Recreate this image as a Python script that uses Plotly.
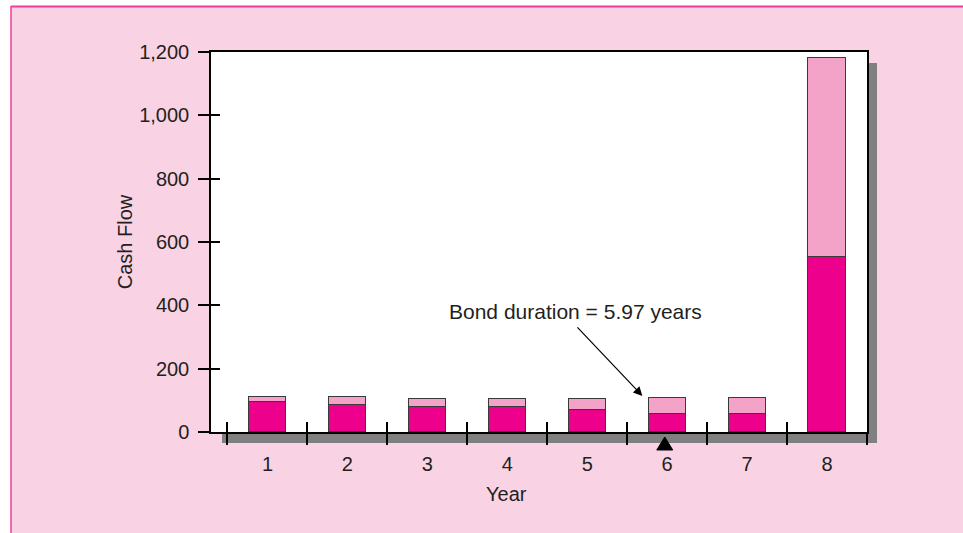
import plotly.graph_objects as go

# ---- data ----
years = [1, 2, 3, 4, 5, 6, 7, 8]
year_labels = ["1", "2", "3", "4", "5", "6", "7", "8"]
cash_flow = [112, 111, 105, 105, 104, 108, 107, 1181]      # total bar height
present_value = [95, 86, 78, 78, 70, 58, 58, 554]          # lower (dark) portion
duration = 5.97
y_ticks = [0, 200, 400, 600, 800, 1000, 1200]
boundaries = [0.5, 1.5, 2.5, 3.5, 4.5, 5.5, 6.5, 7.5, 8.5]

upper = [c - p for c, p in zip(cash_flow, present_value)]

DARK = "#EC008C"
LIGHT = "#F3A3C8"
PINK_BG = "#F9D3E4"
BORDER = "#EE3F97"
SHADOW = "#808080"
TEXT = "#231F20"
FONT = "Liberation Sans, Arial, Helvetica, sans-serif"
FS = 20

fig = go.Figure()
fig.add_trace(go.Bar(x=years, y=present_value, width=0.465, marker=dict(color=DARK, line=dict(color="#3a3a3a", width=1)),
                     hoverinfo="y", showlegend=False))
fig.add_trace(go.Bar(x=years, y=upper, width=0.465, marker=dict(color=LIGHT, line=dict(color="#3a3a3a", width=1)),
                     hoverinfo="y", showlegend=False))
# invisible trace to create overlay axes
fig.add_trace(go.Scatter(x=[1], y=[0], xaxis="x2", yaxis="y2", mode="markers",
                         marker=dict(opacity=0), showlegend=False, hoverinfo="skip"))

W, H = 963, 533
L, R, T, B = 211, 96, 52, 101
pw, ph = W - L - R, H - T - B

def px(x):
    return (x - L) / pw

def py(y):
    return (H - B - y) / ph

shapes = [
    # pink page panel
    dict(type="rect", xref="paper", yref="paper", x0=px(11), x1=px(W + 5), y0=py(H + 5), y1=py(6),
         fillcolor=PINK_BG, line=dict(width=0), layer="below"),
    dict(type="line", xref="paper", yref="paper", x0=px(11), x1=px(11), y0=py(H + 5), y1=py(6),
         line=dict(color=BORDER, width=1.5), layer="below"),
    dict(type="line", xref="paper", yref="paper", x0=px(11), x1=px(W + 5), y0=py(6.5), y1=py(6.5),
         line=dict(color=BORDER, width=2), layer="below"),
    # drop shadow
    dict(type="rect", xref="paper", yref="paper", x0=px(222), x1=px(877), y0=py(443), y1=py(63),
         fillcolor=SHADOW, line=dict(width=0), layer="below"),
    # white plot area
    dict(type="rect", xref="paper", yref="paper", x0=0, x1=1, y0=0, y1=1,
         fillcolor="white", line=dict(width=0), layer="below"),
    # duration fulcrum triangle, anchored at x = duration just below the axis
    dict(type="path", xref="x", yref="paper", xsizemode="pixel", ysizemode="pixel",
         xanchor=duration, yanchor=0, path="M -8 -18 L 8 -18 L 0 -5 Z",
         fillcolor="black", line=dict(color="black", width=1), layer="above"),
]

xr = [0.294, 8.5]
yr = [0, 1200]

fig.update_layout(
    width=W, height=H,
    margin=dict(l=L, r=R, t=T, b=B),
    paper_bgcolor="white",
    plot_bgcolor="rgba(0,0,0,0)",
    barmode="stack",
    bargap=0,
    shapes=shapes,
    font=dict(family=FONT, size=FS, color=TEXT),
    xaxis=dict(range=xr, tickvals=years, ticktext=year_labels, ticks="", showgrid=False, zeroline=False,
               showline=True, linecolor="black", linewidth=1.5, mirror=True,
               ticklabelstandoff=13,
               minor=dict(tickvals=boundaries, ticks="outside", ticklen=11, tickcolor="black", tickwidth=1.5,
                          showgrid=False),
               tickfont=dict(size=FS, color=TEXT)),
    xaxis2=dict(range=xr, overlaying="x", anchor="y", tickvals=boundaries, ticks="inside", ticklen=10,
                tickcolor="black", tickwidth=1.5, showticklabels=False, showgrid=False, zeroline=False,
                showline=False),
    yaxis=dict(range=yr, tickvals=y_ticks, tickformat=",", ticks="outside", ticklen=11, tickcolor="black",
               tickwidth=1.5, showgrid=False, zeroline=False, showline=True, linecolor="black", linewidth=1.5,
               mirror=True, ticklabelstandoff=5,
               title=dict(text="Cash Flow", standoff=1, font=dict(size=FS, color=TEXT)),
               tickfont=dict(size=FS, color=TEXT)),
    yaxis2=dict(range=yr, overlaying="y", anchor="x", tickvals=y_ticks[1:-1], ticks="inside", ticklen=9,
                tickcolor="black", tickwidth=1.5, showticklabels=False, showgrid=False, zeroline=False,
                showline=False, side="left"),
    annotations=[
        dict(text="Year", xref="paper", yref="paper", x=px(506), y=py(494), xanchor="center", yanchor="middle",
             showarrow=False, font=dict(size=FS, color=TEXT)),
        dict(text="Bond duration = 5.97 years", xref="x", yref="y", x=4.856, y=380, xanchor="center",
             yanchor="middle", showarrow=False, font=dict(size=21, color=TEXT)),
        dict(text="", xref="x", yref="y", x=5.69, y=114, axref="x", ayref="y", ax=4.86, ay=335,
             showarrow=True, arrowhead=2, arrowsize=1.5, arrowwidth=1.2, arrowcolor="black"),
    ],
)

fig.write_html("out.html", config={"displayModeBar": False},
               post_script="document.body.style.margin='0';document.body.style.overflow='hidden';")
